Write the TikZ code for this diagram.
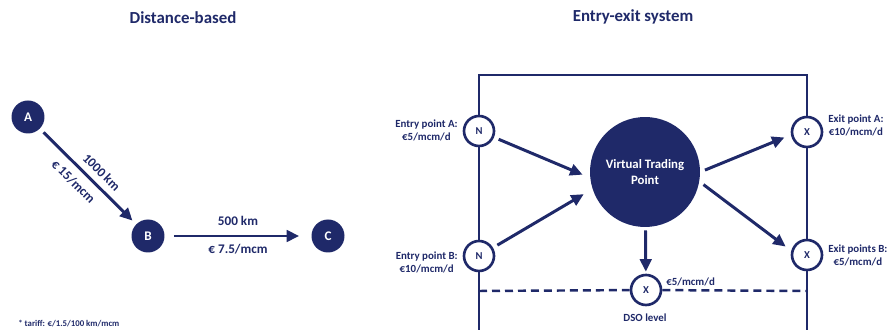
\documentclass[tikz,border=0pt]{standalone}
\usepackage{fontspec}
\setmainfont{Carlito}
\usetikzlibrary{arrows.meta}
\definecolor{navy}{RGB}{31,41,105}
\tikzset{
  hub/.style={circle,fill=navy,text=white,minimum size=0.66cm,inner sep=0pt,font=\bfseries\fontsize{7.5}{8}\selectfont},
  port/.style={circle,draw=navy,line width=1.5pt,fill=white,text=navy,minimum size=0.6cm,inner sep=0pt,font=\bfseries\fontsize{6}{6}\selectfont},
  flow/.style={draw=navy,line width=1.7pt,-{Triangle[length=0.25cm,width=0.23cm]}},
  txt/.style={text=navy,font=\bfseries\fontsize{6.2}{7.4}\selectfont,align=center,inner sep=0pt},
  lbl/.style={text=navy,font=\bfseries\fontsize{7.5}{9}\selectfont,inner sep=0pt},
  ttl/.style={text=navy,font=\bfseries\fontsize{9.6}{11}\selectfont,inner sep=0pt}
}
\begin{document}
\begin{tikzpicture}[x=0.02cm,y=-0.02cm]
    \useasboundingbox (0,0) rectangle (893,330);

    % Titles
    \node[ttl] (ttlL) at (183,18) {Distance-based};
    \node[ttl] (ttlR) at (633,17) {Entry-exit system};

    % Drawing distance-based points
    \node[hub] (A) at (28,117) {A};
    \node[hub] (B) at (148,236) {B};
    \node[hub] (C) at (328,236) {C};

    \draw[flow,shorten <=0.1cm,shorten >=0.1cm] (A) -- (B)
        node[lbl,pos=0.55,sloped,above=0.13cm] (dAB) {1000 km}
        node[lbl,pos=0.45,sloped,below=0.15cm] (pAB) {€ 15/mcm};
    \draw[flow,shorten <=0.18cm,shorten >=0.24cm] (B) -- (C)
        node[lbl,midway,above=0.17cm] (dBC) {500 km}
        node[lbl,midway,below=0.14cm] (pBC) {€ 7.5/mcm};

    \node[txt,anchor=west,font=\bfseries\fontsize{5}{6}\selectfont] (tariff) at (18,324) {* tariff: €/1.5/100 km/mcm};

    % Drawing entry-exit box
    \draw[navy,line width=1.5pt] (479,331) -- (479,75) -- (807,75) -- (807,331);

    % Marking entry and exit points
    \node[port] (NA) at (479,131) {N};
    \node[port] (NB) at (479,256) {N};
    \node[port] (XA) at (807,132) {X};
    \node[port] (XB) at (807,255) {X};
    \node[port] (XD) at (646,290) {X};

    % Drawing DSO level
    \coordinate (dsoL) at (479,291);
    \coordinate (dsoR) at (807,291);
    \draw[navy,line width=1.4pt,dash pattern=on 0.16cm off 0.1cm] (dsoL) -- (XD) -- (dsoR);

    % Virtual trading point
    \node[hub,minimum size=2.2cm,align=center,font=\bfseries\fontsize{7.3}{9}\selectfont] (VTP) at (645,172) {Virtual Trading\\Point};

    \draw[flow,shorten <=0.1cm,shorten >=0.16cm] (NA) -- (VTP.186);
    \draw[flow,shorten <=0.1cm,shorten >=0.2cm] (NB) -- (VTP.198);
    \draw[flow,shorten <=0.1cm,shorten >=0.14cm] (VTP.0) -- (XA.190);
    \draw[flow,shorten <=0.1cm,shorten >=0.14cm] (VTP.350) -- (XB.165);
    \draw[flow,shorten <=0.06cm,shorten >=0.04cm] (VTP) -- (XD);

    % Labels
    \node[txt,anchor=east] (entA) at (458,130) {Entry point A:\\€5/mcm/d};
    \node[txt,anchor=east] (entB) at (458,262) {Entry point B:\\€10/mcm/d};
    \node[txt,anchor=west] (extA) at (828,125) {Exit point A:\\€10/mcm/d};
    \node[txt,anchor=west] (extB) at (828,255) {Exit points B:\\€5/mcm/d};
    \node[txt,anchor=west] (dsoP) at (666,282) {€5/mcm/d};
    \node[txt] (dso) at (645,318) {DSO level};
\end{tikzpicture}
\end{document}
